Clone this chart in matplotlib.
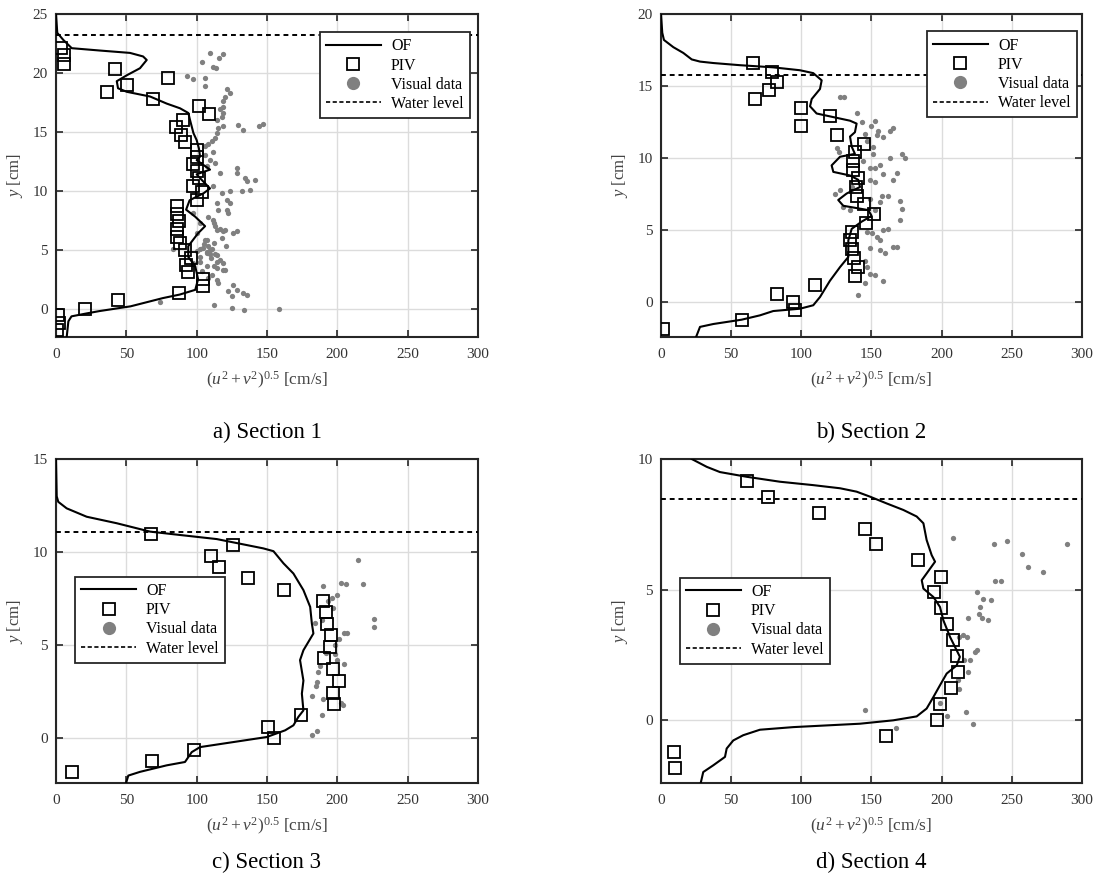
import numpy as np
import matplotlib
matplotlib.use("Agg")
import matplotlib.pyplot as plt
from matplotlib.lines import Line2D

plt.rcParams['font.family'] = ['Liberation Serif', 'DejaVu Serif']
plt.rcParams['mathtext.fontset'] = 'custom'
plt.rcParams['mathtext.rm'] = 'Liberation Serif'
plt.rcParams['mathtext.it'] = 'Liberation Serif:italic'

# ---------------- Section 1 ----------------
of1_v = [0, 0.9, 5.2, 11.2, 31.3, 52.6, 61.9, 64.5, 59.7, 50.3, 43.2, 44.1, 50.3, 66.9, 78.7, 88.2, 94.1, 95.3,
         97.7, 100, 101.6, 102.4, 100, 109.5, 100, 103, 109.5, 105, 95, 92.5, 99, 106, 101, 94, 94, 99, 101, 99,
         88, 76, 53, 31, 21.8, 11, 8.8, 7.6]
of1_y = [25, 23.4, 22.8, 22.1, 21.9, 21.7, 21.4, 21.1, 20.4, 19.8, 19.3, 18.7, 18.4, 18.0, 17.4, 17.0, 16.6, 16.0,
         14.9, 14.3, 13.6, 12.9, 12.6, 11.8, 11.4, 11.0, 10.2, 9.8, 9.2, 8.4, 7.8, 7.0, 6.4, 5.3, 4.4, 3.6, 2.5, 1.6,
         1.2, 0.9, 0.2, -0.2, -0.4, -0.65, -1.07, -2.4]
piv1_v = [3.3, 5.9, 5.7, 42, 79.4, 50.3, 36, 69.2, 101.7, 109, 90.5, 85, 89, 92, 100, 100, 97.5, 100.5, 102, 97.7,
          103.6, 100.5, 86.3, 86.3, 87.5, 86.3, 86.3, 88.2, 91.7, 95.8, 92.5, 94, 104.3, 104.8, 87.7, 44.3, 20.6,
          1.7, 2.4, 1]
piv1_y = [22.1, 21.5, 20.8, 20.3, 19.6, 19.0, 18.4, 17.8, 17.2, 16.5, 16.0, 15.4, 14.7, 14.1, 13.5, 12.9, 12.3, 11.7,
          11.1, 10.4, 9.9, 9.2, 8.7, 8.0, 7.4, 6.75, 6.1, 5.55, 4.94, 4.3, 3.7, 3.1, 2.5, 1.9, 1.3, 0.7, 0.0, -0.5,
          -1.2, -1.8]
vis1_v = [109.5, 119, 116, 103.6, 113.8, 111.4, 93, 97.7, 106, 106, 121.4, 123.8, 120, 118.5, 119, 116.6, 119, 117.8,
          114.3, 119, 115.4, 129.7, 133.2, 147, 144.6, 114.3, 113, 110.7, 108.3, 106, 111.9, 106, 109.5, 113, 107.2,
          128.5, 128.5, 116.6, 134.4, 135.6, 141.5, 111.9, 117.8, 123.8, 132, 138, 121.4, 114.3, 121.4, 122.6, 97.7,
          111.9, 116.6, 120.2, 113.1, 100, 106, 108.3, 110.7, 107.2, 109.5, 113, 102.4, 83.4, 114.3, 119, 107.2,
          114.3, 120.2, 108.3, 115.4, 126, 128.5, 133.2, 135.6, 122.5, 125, 74, 112, 125, 134, 158.8,
          102.4, 112, 114.3, 119, 126, 128.5, 107.2, 112, 104.8, 109.5, 107.2, 114.3, 116.6, 102.4, 112, 119, 114.3,
          102.4, 97.7, 115.4, 123.8, 105, 110, 118, 104, 111, 121, 100, 108]
vis1_y = [21.7, 21.6, 21.3, 20.9, 20.4, 20.5, 19.7, 19.5, 19.55, 18.9, 18.6, 18.3, 18.0, 17.6, 17.1, 16.9, 16.6, 16.3,
          16.0, 15.5, 15.3, 15.6, 15.2, 15.7, 15.5, 14.9, 14.5, 14.2, 14.0, 13.8, 13.3, 13.05, 12.6, 12.35, 12.1,
          11.9, 11.5, 11.5, 11.1, 10.8, 10.9, 10.4, 9.8, 9.95, 9.95, 10.1, 9.2, 8.95, 8.4, 8.1, 8.1,
          7.5, 6.8, 6.7, 7.0, 6.4, 5.85, 5.3, 5.1, 4.85, 4.6, 4.6, 5.1, 5.1, 4.0, 3.85, 3.6,
          3.45, 3.3, 2.6, 2.2, 2.0, 1.6, 1.3, 1.2, 1.5, 1.05, 0.6, 0.35, 0.05, -0.1, 0.0,
          7.26, 7.26, 6.7, 6.55, 6.4, 6.55, 5.85, 5.57, 5.14, 5.0, 4.72, 4.58, 4.15, 4.0, 3.58, 3.3, 2.46,
          4.4, 3.87, 8.4, 8.96, 5.5, 4.3, 6.0, 3.2, 2.9, 5.3, 4.9, 7.8]
wl1 = 23.2

# ---------------- Section 2 ----------------
of2_v = [0, 0.9, 2.1, 8.8, 15.9, 21.9, 27.8, 37.3, 56.3, 80, 99, 108.5, 114.5, 113.3, 107.4, 106.2, 110.9, 120.4,
         134.7, 139.4, 138.2, 134.7, 135.9, 138.2, 127.6, 121.6, 122.8, 134.7, 140.6, 141.8, 132.3, 126.3, 129.9,
         141.8, 147.7, 150.1, 143, 135.9, 133.5, 133.5, 127.6, 120.4, 113.3, 108.5, 99, 80, 70.5, 57.5, 37.3, 27.8, 25]
of2_y = [20, 18.7, 18.2, 17.7, 17.3, 16.85, 16.7, 16.6, 16.45, 16.3, 16.1, 15.9, 15.4, 14.8, 14.1, 13.6, 13.1, 12.9,
         12.6, 12.4, 11.8, 11.5, 10.8, 10.3, 10.1, 9.5, 9.05, 8.8, 8.5, 8.0, 7.55, 7.1, 6.7,
         6.5, 6.4, 6.0, 5.6, 5.1, 4.3, 3.15, 2.45, 1.5, 0.37, -0.2, -0.44, -0.6, -0.9, -1.2, -1.5, -1.7, -2.4]
piv2_v = [65.8, 78.9, 82.4, 77.2, 67, 99.5, 99.5, 120.4, 125.2, 144.9, 138.2, 136.6, 136.6, 140.1, 138.7, 139.4,
          144.7, 151.8, 146.1, 135.9, 134.7, 136.3, 137.5, 140.1, 138.2, 109.7, 82.9, 94.3, 95.5, 57.5, 1.7]
piv2_y = [16.6, 15.95, 15.3, 14.7, 14.1, 13.5, 12.25, 12.9, 11.6, 11.0, 10.4, 9.8, 9.2, 8.6, 8.0, 7.4,
          6.8, 6.15, 5.5, 4.9, 4.3, 3.7, 3.1, 2.45, 1.8, 1.2, 0.6, 0.02, -0.55, -1.2, -1.83]
vis2_v = [127.6, 130.4, 139.4, 143, 152.5, 150, 154.9, 158.4, 165.5, 163.2, 145.4, 153.7, 125.2, 127, 151.3, 151.3,
          163.2, 148.9, 152.5, 156, 149, 152.5, 127.6, 124, 135.9, 157.3, 162, 149, 156, 130, 134.7, 152.5, 170.3,
          146.6, 150.1, 153.7, 158.4, 162, 156, 149, 156, 159.6, 165.5, 168, 145.4, 146.6, 149, 152.5, 158.4, 145.4,
          140.6, 172, 174, 168, 172, 170, 165, 144, 147, 158]
vis2_y = [14.25, 14.25, 13.1, 12.5, 12.6, 12.2, 11.9, 11.5, 12.1, 11.9, 11.7, 11.6, 10.7, 10.4, 10.8, 10.3,
          10.0, 9.3, 9.3, 9.5, 8.5, 8.35, 7.8, 7.55, 8.0, 7.4, 7.35, 7.2, 6.97, 6.6, 6.4, 6.4, 5.7,
          4.9, 4.8, 4.5, 5.0, 5.1, 4.3, 3.8, 3.6, 3.4, 3.85, 3.85, 2.9, 2.45, 2.0, 1.9, 1.5, 1.35,
          0.5, 10.3, 10.0, 9.0, 6.5, 7.0, 8.5, 9.8, 11.2, 8.9]
wl2 = 15.8

# ---------------- Section 3 ----------------
of3_v = [0, 0.5, 1.6, 7.6, 21.8, 43.2, 66.9, 90.5, 114.3, 130.9, 147.4, 154.6, 161.7, 168.8, 175.9, 180.7, 181.9,
         183, 175.9, 173.5, 175.9, 174.8, 175.9, 172.3, 168.8, 162.9, 149.8, 126.1, 102.4, 96.5, 91.7, 78.7,
         59.7, 51.4, 49.8]
of3_y = [15, 13.0, 12.7, 12.35, 11.9, 11.55, 11.1, 10.9, 10.7, 10.45, 10.2, 10.05, 9.4, 8.85, 7.96, 7.06, 6.17,
         5.63, 4.73, 4.2, 3.1, 2.4, 1.5, 1.15, 0.7, 0.43, 0.07, -0.2, -0.47, -0.74, -1.27, -1.45,
         -1.8, -2.0, -2.4]
piv3_v = [67.3, 126.1, 110, 115.9, 136.8, 162.4, 189.7, 192, 193, 195.3, 194.9, 190.8, 196.8, 201.3, 197.2, 197.7,
          174.3, 151, 155, 98.2, 68, 11.2]
piv3_y = [10.95, 10.4, 9.8, 9.2, 8.6, 7.96, 7.37, 6.8, 6.13, 5.54, 4.9, 4.34, 3.7, 3.06, 2.46, 1.87,
          1.24, 0.6, 0, -0.6, -1.2, -1.8]
vis3_v = [202.7, 189.7, 199.6, 196, 193.7, 196.8, 184.2, 189, 201.5, 204.8, 206.7, 198.4, 198.4, 199.6, 186.6,
          185.4, 185, 181.9, 190.1, 203.9, 202.5, 189, 185.4, 182.3, 215, 218, 226, 226, 206, 205, 192, 188]
vis3_y = [8.35, 8.2, 7.7, 7.56, 7.4, 7.0, 6.17, 6.34, 5.36, 5.63, 5.63, 5.0, 4.55, 4.2, 3.57,
          3.03, 2.8, 2.3, 2.13, 1.77, 1.9, 1.24, 0.39, 0.16, 9.6, 8.3, 6.4, 6.0, 8.3, 4.0, 4.6, 3.9]
wl3 = 11.1

# ---------------- Section 4 ----------------
of4_v = [21.9, 32.6, 42, 61, 84.8, 108.5, 127.6, 139.4, 148.9, 160.8, 172.7, 182.2, 187, 189.3, 192.9, 195.3,
         189.3, 185.8, 187, 194.1, 198.8, 201.2, 206, 213, 210.7, 203.6, 198.8, 194.1, 189.3, 182.2, 165.5, 141.8,
         94.3, 70.5, 58.6, 51.5, 46.8, 45.6, 37.3, 30.1, 28.3]
of4_y = [10, 9.7, 9.5, 9.32, 9.13, 9.0, 8.88, 8.75, 8.56, 8.3, 8.05, 7.8, 7.54, 6.9, 6.32, 6.07,
         5.62, 5.36, 5.04, 4.72, 4.34, 3.83, 3.19, 2.43, 2.1, 1.79, 1.34, 0.89, 0.45, 0.15, 0, -0.13,
         -0.26, -0.36, -0.57, -0.77, -1.08, -1.4, -1.72, -1.98, -2.4]
piv4_v = [61, 76, 112.6, 145.4, 153.5, 182.9, 199.5, 194.5, 199.3, 204, 207.9, 211.2, 211.9, 206.7, 198.8, 196.9,
          160.3, 9.5, 10]
piv4_y = [9.16, 8.56, 7.94, 7.34, 6.74, 6.12, 5.5, 4.9, 4.28, 3.67, 3.07, 2.46, 1.84, 1.24, 0.61, 0.03,
          -0.59, -1.21, -1.81]
vis4_v = [208.3, 237.3, 246.3, 257, 261.3, 272.4, 238, 242.3, 225.4, 229.7, 235.2, 227.3, 226.6, 228.5, 232.8,
          218.5, 215.4, 218.3, 212.6, 223.8, 225.4, 216, 220.2, 219, 211.9, 212.6, 198.8, 217.7, 204, 222, 167.5,
          145.6, 289]
vis4_y = [6.96, 6.73, 6.87, 6.35, 5.87, 5.66, 5.35, 5.35, 4.9, 4.66, 4.6, 4.34, 4.05, 3.9, 3.83,
          3.9, 3.26, 3.17, 3.17, 2.62, 2.68, 2.3, 2.3, 1.85, 1.53, 1.18, 0.66, 0.32, 0.17, -0.13, -0.3,
          0.4, 6.75]
wl4 = 8.47

fig = plt.figure(figsize=(10.96, 8.81), dpi=100)

panels = [
    ([0.0511, 0.6175, 0.385, 0.3666], of1_v, of1_y, piv1_v, piv1_y, vis1_v, vis1_y, wl1, 25, 'upper right', (0.981, 0.944)),
    ([0.6031, 0.6175, 0.3841, 0.3666], of2_v, of2_y, piv2_v, piv2_y, vis2_v, vis2_y, wl2, 20, 'upper right', (0.988, 0.947)),
    ([0.0511, 0.1112, 0.385, 0.3678], of3_v, of3_y, piv3_v, piv3_y, vis3_v, vis3_y, wl3, 15, 'upper left', (0.045, 0.637)),
    ([0.6031, 0.1112, 0.3841, 0.3678], of4_v, of4_y, piv4_v, piv4_y, vis4_v, vis4_y, wl4, 10, 'upper left', (0.045, 0.634)),
]
captions = ['a) Section 1', 'b) Section 2', 'c) Section 3', 'd) Section 4']
cap_pos = [(0.2436, 0.509), (0.795, 0.509), (0.2436, 0.021), (0.795, 0.021)]

for i, p in enumerate(panels):
    rect, ofv, ofy, pv, py, vv, vy, wl, ytop, loc, anchor = p
    ax = fig.add_axes(rect)
    # visual data dots behind, OF line, then hollow PIV squares on top
    ax.plot(vv, vy, 'o', color='#808080', markersize=3.8, markeredgewidth=0, zorder=2)
    ax.plot(ofv, ofy, '-', color='black', lw=1.5, zorder=3)
    ax.plot(pv, py, 's', markerfacecolor='none', markeredgecolor='black', markersize=8,
            markeredgewidth=1.3, zorder=4)
    ax.axhline(wl, color='black', lw=1.4, ls=(0, (2.5, 2)), zorder=3)
    ax.set_xlim(0, 300)
    ax.set_ylim(-2.4, ytop)
    ax.set_xticks([0, 50, 100, 150, 200, 250, 300])
    ax.set_yticks(np.arange(0, ytop + 1, 5))
    ax.grid(True, color='#dcdcdc', lw=1.0)
    ax.set_axisbelow(True)
    ax.tick_params(direction='in', top=True, right=True, length=5, width=1.2, labelsize=11,
                   labelcolor='#333333', color='#262626')
    ax.tick_params(axis='x', pad=8)
    ax.tick_params(axis='y', pad=6)
    for s in ax.spines.values():
        s.set_color('#262626')
        s.set_linewidth(1.5)
    ax.set_xlabel(r'$(u^2 + v^2)^{0.5}$ [cm/s]', fontsize=12.5, color='#444444', labelpad=6)
    ax.set_ylabel(r'$y$ [cm]', fontsize=12, color='#444444', labelpad=5)

    handles = [Line2D([], [], color='black', lw=1.5),
               Line2D([], [], ls='none', marker='s', markerfacecolor='none', markeredgecolor='black',
                      markersize=8, markeredgewidth=1.3),
               Line2D([], [], ls='none', marker='o', color='#808080', markersize=9.5, markeredgewidth=0),
               Line2D([], [], color='black', lw=1.2, ls=(0, (2.5, 1.5)))]
    leg = ax.legend(handles, ['OF', 'PIV', 'Visual data', 'Water level'], loc=loc, bbox_to_anchor=anchor,
                    fontsize=11.5, frameon=True, fancybox=False, edgecolor='#262626', framealpha=1,
                    handlelength=3.4, labelspacing=0.2, borderpad=0.4, handletextpad=0.65, borderaxespad=0)
    leg.get_frame().set_linewidth(1.3)
    fig.text(cap_pos[i][0], cap_pos[i][1], captions[i], ha='center', va='center', fontsize=16.5)

fig.savefig('out.png', dpi=100)
